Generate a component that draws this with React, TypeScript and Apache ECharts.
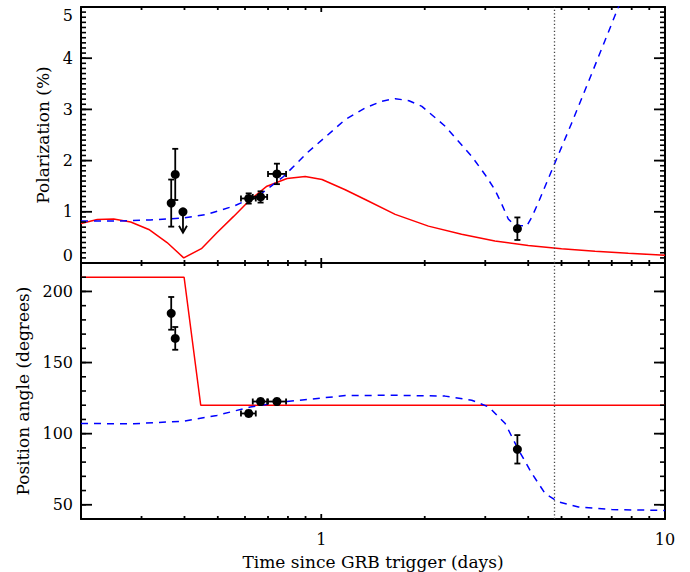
import React, { useEffect, useRef } from "react";
import * as echarts from "echarts";

// Time axis range (days since trigger), log scale
const T_MIN = 0.2;
const T_MAX = 10;
const JET_BREAK_T = 4.75;
const MINOR_T = [0.3, 0.4, 0.5, 0.6, 0.7, 0.8, 0.9, 2, 3, 4, 5, 6, 7, 8, 9];
const MAJOR_T = [1, 10];

// Polarization model A (solid red)
const polModelA_t = [0.2, 0.223, 0.249, 0.279, 0.315, 0.356, 0.398, 0.448, 0.497, 0.556, 0.622, 0.695, 0.795, 0.898, 1.005, 1.174, 1.342, 1.641, 2.05, 2.56, 3.2, 4.0, 5.0, 6.26, 7.82, 10];
const polModelA_p = [0.77, 0.85, 0.86, 0.8, 0.655, 0.4, 0.1, 0.28, 0.59, 0.91, 1.24, 1.5, 1.65, 1.69, 1.63, 1.43, 1.24, 0.95, 0.72, 0.56, 0.43, 0.34, 0.28, 0.23, 0.19, 0.15];

// Polarization model B (dashed blue)
const polModelB_t = [0.2, 0.255, 0.318, 0.398, 0.465, 0.556, 0.665, 0.777, 0.909, 1.086, 1.174, 1.342, 1.5, 1.641, 1.8, 1.962, 2.294, 2.742, 3.0, 3.2, 3.35, 3.5, 3.62, 3.8, 3.96, 4.1, 4.28, 4.74, 5.35, 6.13, 7.32, 8.0];
const polModelB_p = [0.82, 0.82, 0.84, 0.88, 0.95, 1.11, 1.34, 1.69, 2.15, 2.6, 2.8, 3.03, 3.16, 3.21, 3.17, 3.06, 2.67, 2.08, 1.72, 1.43, 1.15, 0.86, 0.76, 0.73, 0.72, 0.9, 1.18, 1.89, 2.73, 3.71, 5.0, 5.7];

// Position angle model A (solid red)
const paModelA_t = [0.2, 0.399, 0.446, 10];
const paModelA_deg = [210, 210, 120, 120];

// Position angle model B (dashed blue)
const paModelB_t = [0.2, 0.285, 0.398, 0.497, 0.622, 0.777, 1.086, 1.174, 1.641, 2.29, 2.74, 3.07, 3.43, 3.74, 4.1, 4.48, 4.9, 5.6, 7.0, 9.56, 10];
const paModelB_deg = [107.1, 107, 108.8, 112.8, 118.8, 122.4, 125.9, 126.8, 127, 126.4, 123.5, 118.8, 107.1, 89, 72, 57.9, 52, 48.5, 46.6, 46.1, 46];

// Measurements
const obsT = [0.366, 0.376, 0.615, 0.666, 0.743, 3.72];
const obsTLo = [0, 0, 0.584, 0.632, 0.7, 0];
const obsTHi = [0, 0, 0.645, 0.696, 0.79, 0];
const obsPol = [1.17, 1.73, 1.26, 1.29, 1.74, 0.67];
const obsPolErr = [0.46, 0.5, 0.1, 0.11, 0.2, 0.22];
const obsPA = [184.6, 167, 114.2, 122.6, 122.6, 89];
const obsPAErr = [11.5, 8, 2, 2, 2, 10];

// Upper limit on polarization
const limitT = [0.396];
const limitPol = [1.0];

// Value axes
const POL_MIN = 0;
const POL_MAX = 5;
const POL_MAJOR = [0, 1, 2, 3, 4, 5];
const POL_MINOR_STEP = 0.1;
const PA_MIN = 40;
const PA_MAX = 220;
const PA_MAJOR = [50, 100, 150, 200];
const PA_MINOR_STEP = 10;

const FONT = "DejaVu Serif";
const BLACK = "#000";
const TICK_FONT = 16;
const TITLE_FONT = 17;

function pairs(xs: number[], ys: number[]) {
  return xs.map((x, i) => [x, ys[i]]);
}

function stepValues(lo: number, hi: number, step: number) {
  const out: number[] = [];
  const n = Math.round((hi - lo) / step);
  for (let k = 0; k <= n; k++) out.push(Math.round((lo + k * step) * 1000) / 1000);
  return out;
}

function xAxisDef(grid: number, position: "top" | "bottom", withLabels: boolean) {
  return {
    type: "log",
    logBase: 10,
    min: T_MIN,
    max: T_MAX,
    gridIndex: grid,
    position,
    axisLine: { show: true, onZero: false, lineStyle: { color: BLACK, width: 2 } },
    axisTick: { show: false },
    axisLabel: withLabels
      ? {
          show: true,
          customValues: MAJOR_T,
          formatter: (v: number) => String(Math.round(v)),
          margin: 12,
          fontFamily: FONT,
          fontSize: TICK_FONT,
          color: BLACK,
        }
      : { show: false },
    splitLine: { show: false },
    ...(withLabels
      ? {
          name: "Time since GRB trigger (days)",
          nameLocation: "middle",
          nameGap: 34,
          nameTextStyle: { fontFamily: FONT, fontSize: TITLE_FONT, color: BLACK },
        }
      : {}),
  };
}

function yAxisDef(extra: any) {
  return {
    type: "value",
    axisLine: { show: true, onZero: false, lineStyle: { color: BLACK, width: 2 } },
    axisTick: { show: false },
    axisLabel: { show: false },
    splitLine: { show: false },
    ...extra,
  };
}

// Inward-pointing ticks on all four sides of a panel
function frameTickSeries(
  xIdx: number,
  yIdx: number,
  yMin: number,
  yMax: number,
  yMajor: number[],
  yMinorStep: number
) {
  const yMinor = stepValues(yMin, yMax, yMinorStep);
  return {
    type: "custom",
    xAxisIndex: xIdx,
    yAxisIndex: yIdx,
    silent: true,
    z: 6,
    data: [[1, (yMin + yMax) / 2]],
    renderItem: (params: any, api: any) => {
      const children: any[] = [];
      const xTick = (t: number, len: number, w: number) => {
        const b = api.coord([t, yMin]);
        const u = api.coord([t, yMax]);
        children.push(
          { type: "line", shape: { x1: b[0], y1: b[1], x2: b[0], y2: b[1] - len }, style: { stroke: BLACK, lineWidth: w } },
          { type: "line", shape: { x1: u[0], y1: u[1], x2: u[0], y2: u[1] + len }, style: { stroke: BLACK, lineWidth: w } }
        );
      };
      const yTick = (v: number, len: number, w: number) => {
        const l = api.coord([T_MIN, v]);
        const r = api.coord([T_MAX, v]);
        children.push(
          { type: "line", shape: { x1: l[0], y1: l[1], x2: l[0] + len, y2: l[1] }, style: { stroke: BLACK, lineWidth: w } },
          { type: "line", shape: { x1: r[0], y1: r[1], x2: r[0] - len, y2: r[1] }, style: { stroke: BLACK, lineWidth: w } }
        );
      };
      MINOR_T.forEach((t) => xTick(t, 3, 1.8));
      MAJOR_T.forEach((t) => xTick(t, 5, 1.8));
      yMinor.forEach((v) => yTick(v, 5, 1.6));
      yMajor.forEach((v) => yTick(v, 11, 1.8));
      return { type: "group", children };
    },
  };
}

function errorBarSeries(xIdx: number, yIdx: number, vals: number[], errs: number[]) {
  return {
    type: "custom",
    xAxisIndex: xIdx,
    yAxisIndex: yIdx,
    silent: true,
    z: 4,
    data: pairs(obsT, vals),
    renderItem: (params: any, api: any) => {
      const i = params.dataIndex;
      const t = obsT[i];
      const v = vals[i];
      const e = errs[i];
      const top = api.coord([t, v + e]);
      const bot = api.coord([t, v - e]);
      const cap = 3;
      const st = { stroke: BLACK, lineWidth: 1.8 };
      const children: any[] = [
        { type: "line", shape: { x1: top[0], y1: top[1], x2: bot[0], y2: bot[1] }, style: st },
        { type: "line", shape: { x1: top[0] - cap, y1: top[1], x2: top[0] + cap, y2: top[1] }, style: st },
        { type: "line", shape: { x1: bot[0] - cap, y1: bot[1], x2: bot[0] + cap, y2: bot[1] }, style: st },
      ];
      if (obsTLo[i] > 0 && obsTHi[i] > 0) {
        const l = api.coord([obsTLo[i], v]);
        const r = api.coord([obsTHi[i], v]);
        children.push(
          { type: "line", shape: { x1: l[0], y1: l[1], x2: r[0], y2: r[1] }, style: st },
          { type: "line", shape: { x1: l[0], y1: l[1] - cap, x2: l[0], y2: l[1] + cap }, style: st },
          { type: "line", shape: { x1: r[0], y1: r[1] - cap, x2: r[0], y2: r[1] + cap }, style: st }
        );
      }
      return { type: "group", children };
    },
  };
}

const dotted = { color: "#444", width: 1.3, type: [1.3, 2.2] };

function modelLine(xIdx: number, yIdx: number, xs: number[], ys: number[], color: string, dashed: boolean, withBreak: boolean) {
  return {
    type: "line",
    xAxisIndex: xIdx,
    yAxisIndex: yIdx,
    data: pairs(xs, ys),
    showSymbol: false,
    clip: true,
    silent: true,
    lineStyle: { color, width: 1.5, type: dashed ? [7, 6] : "solid" },
    z: 2,
    ...(withBreak
      ? {
          markLine: {
            silent: true,
            symbol: "none",
            label: { show: false },
            lineStyle: dotted,
            data: [{ xAxis: JET_BREAK_T }],
          },
        }
      : {}),
  };
}

function buildOption() {
  const gridLeft = 81;
  const gridWidth = 584;
  return {
    animation: false,
    backgroundColor: "#fff",
    grid: [
      { left: gridLeft, top: 7, width: gridWidth, height: 256 },
      { left: gridLeft, top: 263, width: gridWidth, height: 256 },
    ],
    xAxis: [
      xAxisDef(0, "bottom", false), // 0
      xAxisDef(0, "top", false), // 1
      xAxisDef(1, "bottom", true), // 2
      xAxisDef(1, "top", false), // 3
    ],
    yAxis: [
      // 0: polarization, left
      yAxisDef({
        gridIndex: 0,
        position: "left",
        min: POL_MIN,
        max: POL_MAX,
        interval: 1,
        axisLabel: {
          show: true,
          customValues: POL_MAJOR,
          margin: 8,
          fontFamily: FONT,
          fontSize: TICK_FONT,
          color: BLACK,
          verticalAlignMinLabel: "bottom",
          verticalAlignMaxLabel: "top",
        },
        name: "Polarization (%)",
        nameLocation: "middle",
        nameGap: 28,
        nameTextStyle: { fontFamily: FONT, fontSize: TITLE_FONT, color: BLACK },
      }),
      // 1: polarization, right
      yAxisDef({ gridIndex: 0, position: "right", min: POL_MIN, max: POL_MAX, interval: 1 }),
      // 2: position angle, left
      yAxisDef({
        gridIndex: 1,
        position: "left",
        min: PA_MIN,
        max: PA_MAX,
        interval: 10,
        axisLabel: {
          show: true,
          customValues: PA_MAJOR,
          margin: 8,
          fontFamily: FONT,
          fontSize: TICK_FONT,
          color: BLACK,
        },
        name: "Position angle (degrees)",
        nameLocation: "middle",
        nameGap: 50,
        nameTextStyle: { fontFamily: FONT, fontSize: TITLE_FONT, color: BLACK },
      }),
      // 3: position angle, right
      yAxisDef({ gridIndex: 1, position: "right", min: PA_MIN, max: PA_MAX, interval: 10 }),
    ],
    series: [
      modelLine(0, 0, polModelA_t, polModelA_p, "#ff0000", false, true),
      modelLine(0, 0, polModelB_t, polModelB_p, "#0000ff", true, false),
      modelLine(2, 2, paModelA_t, paModelA_deg, "#ff0000", false, true),
      modelLine(2, 2, paModelB_t, paModelB_deg, "#0000ff", true, false),
      frameTickSeries(0, 0, POL_MIN, POL_MAX, POL_MAJOR, POL_MINOR_STEP),
      frameTickSeries(2, 2, PA_MIN, PA_MAX, PA_MAJOR, PA_MINOR_STEP),
      errorBarSeries(0, 0, obsPol, obsPolErr),
      errorBarSeries(2, 2, obsPA, obsPAErr),
      {
        type: "custom",
        xAxisIndex: 0,
        yAxisIndex: 0,
        silent: true,
        z: 4,
        data: pairs(limitT, limitPol),
        renderItem: (params: any, api: any) => {
          const i = params.dataIndex;
          const p = api.coord([limitT[i], limitPol[i]]);
          const len = 21;
          const st = { stroke: BLACK, lineWidth: 1.8, fill: "none" };
          return {
            type: "group",
            children: [
              { type: "line", shape: { x1: p[0], y1: p[1], x2: p[0], y2: p[1] + len }, style: st },
              {
                type: "polyline",
                shape: { points: [[p[0] - 4, p[1] + len - 7], [p[0], p[1] + len], [p[0] + 4, p[1] + len - 7]] },
                style: st,
              },
            ],
          };
        },
      },
      {
        type: "scatter",
        xAxisIndex: 0,
        yAxisIndex: 0,
        data: pairs(obsT, obsPol).concat(pairs(limitT, limitPol)),
        symbol: "circle",
        symbolSize: 9,
        itemStyle: { color: BLACK, opacity: 1 },
        z: 5,
        silent: true,
      },
      {
        type: "scatter",
        xAxisIndex: 2,
        yAxisIndex: 2,
        data: pairs(obsT, obsPA),
        symbol: "circle",
        symbolSize: 9,
        itemStyle: { color: BLACK, opacity: 1 },
        z: 5,
        silent: true,
      },
    ],
  };
}

export default function App() {
  const ref = useRef<HTMLDivElement>(null);
  useEffect(() => {
    if (!ref.current) return;
    const chart = echarts.init(ref.current, undefined, { renderer: "svg" });
    chart.setOption(buildOption() as any);
    return () => chart.dispose();
  }, []);
  return (
    <div
      ref={ref}
      style={{ position: "fixed", left: 0, top: 0, width: 690, height: 572, background: "#fff" }}
    />
  );
}
